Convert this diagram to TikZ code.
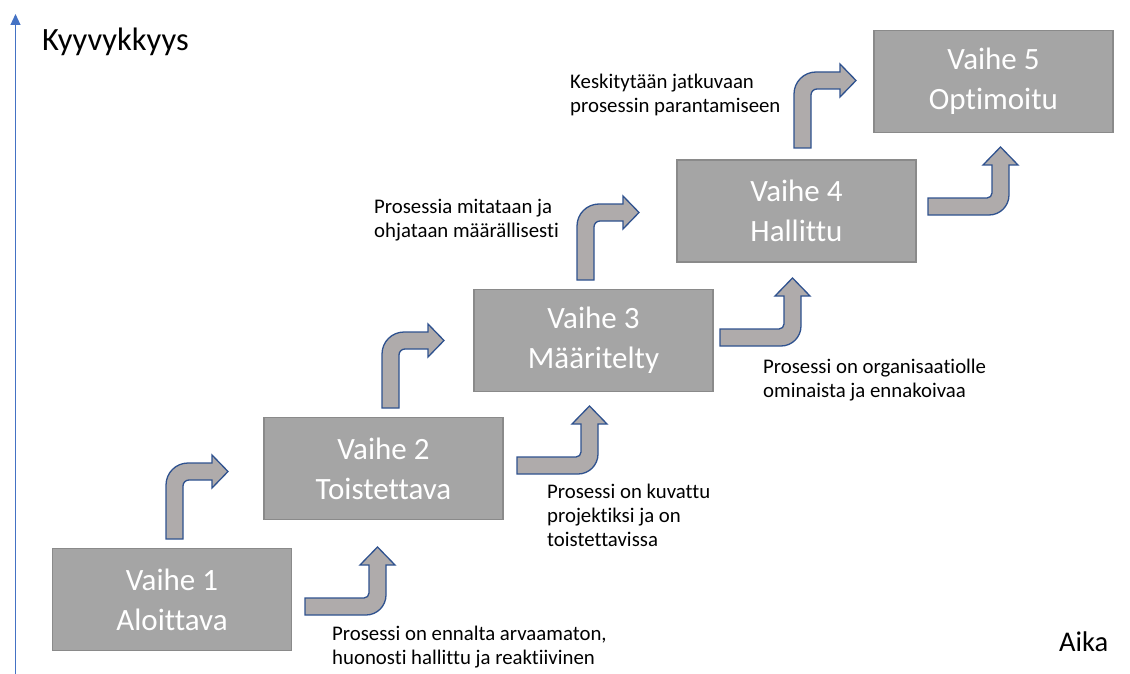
\documentclass[tikz,border=0pt]{standalone}
\usepackage{fontspec}
\setmainfont[Ligatures=NoCommon]{Carlito}
\usetikzlibrary{arrows.meta,positioning}
\definecolor{laatikko}{HTML}{A5A5A5}
\definecolor{laatikkoreuna}{HTML}{8A8A8A}
\definecolor{nuolitaytto}{HTML}{AFABAB}
\definecolor{nuolireuna}{HTML}{2F528F}
\definecolor{akselisini}{HTML}{4472C4}

\begin{document}
\begin{tikzpicture}[x=1pt,y=-1pt,>=Latex,
  vaihe/.style={rectangle,draw=laatikkoreuna,line width=1.3pt,fill=laatikko,text=white,
    minimum width=239pt,minimum height=102pt,inner sep=0pt,align=center,
    font=\fontsize{31}{40}\selectfont},
  kuvaus/.style={anchor=west,align=left,inner sep=0pt,font=\fontsize{20.8}{24}\selectfont},
  nuoli/.style={draw=nuolireuna,fill=nuolitaytto,line width=1.3pt},
  kaarioikea/.pic={
    \path[nuoli] (0,0) -- (0,-54) .. controls (0,-66.15) and (9.85,-76) .. (22,-76) -- (46,-76)
      -- (46,-84) -- (62,-67.5) -- (46,-51) -- (46,-59) -- (23,-59)
      .. controls (19.69,-59) and (17,-56.31) .. (17,-53) -- (17,0) -- cycle;
  },
  kaariylos/.pic={
    \path[nuoli] (0,0) -- (0,-17) -- (59,-17) .. controls (61.76,-17) and (64,-19.24) .. (64,-22)
      -- (64,-50) -- (55,-50) -- (72.5,-68) -- (90,-50) -- (81,-50) -- (81,-20)
      .. controls (81,-8.95) and (72.05,0) .. (61,0) -- cycle;
  }]
  \useasboundingbox (0,0) rectangle (1130,674);

  \coordinate (ala) at (15.5,674);
  \coordinate (yla) at (15.5,14);
  \draw[akselisini,line width=1.1pt,-{Triangle[width=10pt,length=11pt]}] (ala) -- (yla);
  \node[anchor=base west,inner sep=0pt,font=\fontsize{32.5}{38}\selectfont] (kyky) at (42,51) {Kyyvykkyys};
  \node[anchor=base west,inner sep=0pt,font=\fontsize{28.5}{34}\selectfont] (aika) at (1059,651) {Aika};

  \node[vaihe] (v1) at (172,599.5) {Vaihe 1\\Aloittava};
  \node[vaihe] (v2) at (383.5,468.5) {Vaihe 2\\Toistettava};
  \node[vaihe] (v3) at (593.5,340.5) {Vaihe 3\\Määritelty};
  \node[vaihe] (v4) at (796.5,211) {Vaihe 4\\Hallittu};
  \node[vaihe] (v5) at (993.5,81.5) {Vaihe 5\\Optimoitu};

  \pic at (166,539) {kaarioikea};
  \pic at (382,408) {kaarioikea};
  \pic at (577,280) {kaarioikea};
  \pic at (794,148) {kaarioikea};
  \pic at (305,615) {kaariylos};
  \pic at (517,474) {kaariylos};
  \pic at (720,346) {kaariylos};
  \pic at (928,215) {kaariylos};

  \node[kuvaus] (k1) at (332,647) {Prosessi on ennalta arvaamaton,\\huonosti hallittu ja reaktiivinen};
  \node[kuvaus] (k2) at (547,515.5) {Prosessi on kuvattu\\projektiksi ja on\\toistettavissa};
  \node[kuvaus] (k3) at (763,380) {Prosessi on organisaatiolle\\ominaista ja ennakoivaa};
  \node[kuvaus] (k4) at (374,220) {Prosessia mitataan ja\\ohjataan määrällisesti};
  \node[kuvaus] (k5) at (570,94.5) {Keskitytään jatkuvaan\\prosessin parantamiseen};
\end{tikzpicture}
\end{document}
